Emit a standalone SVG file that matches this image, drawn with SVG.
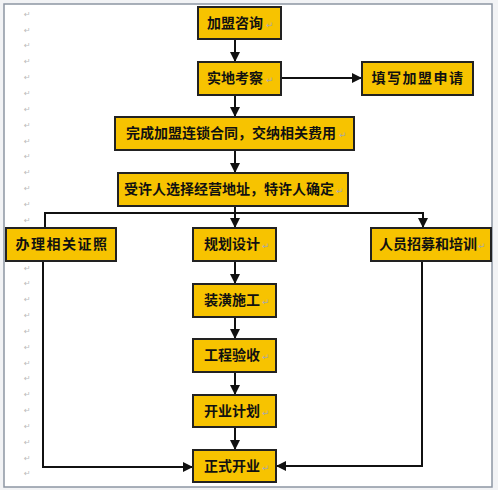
<svg xmlns="http://www.w3.org/2000/svg" width="498" height="490" viewBox="0 0 498 490">
<style>
.box{fill:#F7C300;stroke:#222;stroke-width:2}
.t{font-family:"Noto Sans CJK SC","Noto Sans",sans-serif;font-size:14px;font-weight:bold;fill:#111;text-anchor:middle}
.ls{letter-spacing:1.5px}
.pm{font-family:"DejaVu Sans",sans-serif;font-size:8px;fill:#bbb}
.pm2{font-family:"DejaVu Sans",sans-serif;font-size:9px;fill:#aaa}
.c{fill:none;stroke:#111;stroke-width:2}
</style>
<defs>
<marker id="ah" viewBox="0 0 10 10" refX="9" refY="5" markerWidth="5" markerHeight="5" orient="auto">
<path d="M0,0 L10,5 L0,10 z" fill="#111"/>
</marker>
</defs>
<rect x="0" y="0" width="498" height="490" fill="#f2f3f5"/>
<rect x="4" y="4" width="488" height="483" fill="#fff" stroke="#8d96a3" stroke-width="1.5"/>
<g id="margin-marks">
<text class="pm" x="24" y="17">↵</text>
<text class="pm" x="24" y="33">↵</text>
<text class="pm" x="24" y="48">↵</text>
<text class="pm" x="24" y="64">↵</text>
<text class="pm" x="24" y="80">↵</text>
<text class="pm" x="24" y="96">↵</text>
<text class="pm" x="24" y="112">↵</text>
<text class="pm" x="24" y="128">↵</text>
<text class="pm" x="24" y="144">↵</text>
<text class="pm" x="24" y="159">↵</text>
<text class="pm" x="24" y="175">↵</text>
<text class="pm" x="24" y="191">↵</text>
<text class="pm" x="24" y="207">↵</text>
<text class="pm" x="24" y="223">↵</text>
<text class="pm" x="24" y="271">↵</text>
<text class="pm" x="24" y="286">↵</text>
<text class="pm" x="24" y="302">↵</text>
<text class="pm" x="24" y="318">↵</text>
<text class="pm" x="24" y="334">↵</text>
<text class="pm" x="24" y="350">↵</text>
<text class="pm" x="24" y="366">↵</text>
<text class="pm" x="24" y="381">↵</text>
<text class="pm" x="24" y="397">↵</text>
<text class="pm" x="24" y="413">↵</text>
<text class="pm" x="24" y="429">↵</text>
<text class="pm" x="24" y="445">↵</text>
<text class="pm" x="24" y="461">↵</text>
<text class="pm" x="24" y="476">↵</text>
</g>
<g id="connectors">
<path class="c" d="M235,39 V61" marker-end="url(#ah)"/>
<path class="c" d="M235,95 V116" marker-end="url(#ah)"/>
<path class="c" d="M281,78 H361" marker-end="url(#ah)"/>
<path class="c" d="M235,150 V172" marker-end="url(#ah)"/>
<path class="c" d="M235,206 V227" marker-end="url(#ah)"/>
<path class="c" d="M45,227 V213 H423 V227" marker-end="url(#ah)"/>
<path class="c" d="M235,261 V283" marker-end="url(#ah)"/>
<path class="c" d="M235,317 V338" marker-end="url(#ah)"/>
<path class="c" d="M235,372 V394" marker-end="url(#ah)"/>
<path class="c" d="M235,427 V449" marker-end="url(#ah)"/>
<path class="c" d="M43,261 V467 H192" marker-end="url(#ah)"/>
<path class="c" d="M422,261 V466 H277" marker-end="url(#ah)"/>
</g>
<g id="n1"><rect class="box" x="198" y="7" width="83" height="32"/><text class="t" x="235" y="28">加盟咨询</text><text class="pm2" x="266" y="28">↵</text></g>
<g id="n2"><rect class="box" x="198" y="62" width="83" height="33"/><text class="t" x="235" y="83">实地考察</text><text class="pm2" x="266" y="83">↵</text></g>
<g id="n3"><rect class="box" x="362" y="62" width="111" height="33"/><text class="t ls" x="418" y="83">填写加盟申请</text></g>
<g id="n4"><rect class="box" x="115" y="117" width="239" height="33"/><text class="t" x="231" y="138">完成加盟连锁合同，交纳相关费用</text><text class="pm2" x="339" y="138">↵</text></g>
<g id="n5"><rect class="box" x="118" y="173" width="230" height="33"/><text class="t" x="229" y="194">受许人选择经营地址，特许人确定</text><text class="pm2" x="336" y="194">↵</text></g>
<g id="n6"><rect class="box" x="6" y="228" width="110" height="33"/><text class="t ls" x="62" y="249">办理相关证照</text></g>
<g id="n7"><rect class="box" x="193" y="228" width="83" height="33"/><text class="t" x="232" y="249">规划设计</text><text class="pm2" x="262" y="249">↵</text></g>
<g id="n8"><rect class="box" x="371" y="228" width="120" height="33"/><text class="t" x="428" y="249">人员招募和培训</text><text class="pm2" x="478" y="249">↵</text></g>
<g id="n9"><rect class="box" x="193" y="284" width="83" height="33"/><text class="t" x="232" y="305">装潢施工</text><text class="pm2" x="262" y="305">↵</text></g>
<g id="n10"><rect class="box" x="193" y="339" width="83" height="33"/><text class="t" x="232" y="360">工程验收</text><text class="pm2" x="262" y="360">↵</text></g>
<g id="n11"><rect class="box" x="193" y="395" width="83" height="32"/><text class="t" x="232" y="416">开业计划</text><text class="pm2" x="262" y="416">↵</text></g>
<g id="n12"><rect class="box" x="193" y="450" width="83" height="32"/><text class="t" x="232" y="471">正式开业</text><text class="pm2" x="262" y="471">↵</text></g>
</svg>
